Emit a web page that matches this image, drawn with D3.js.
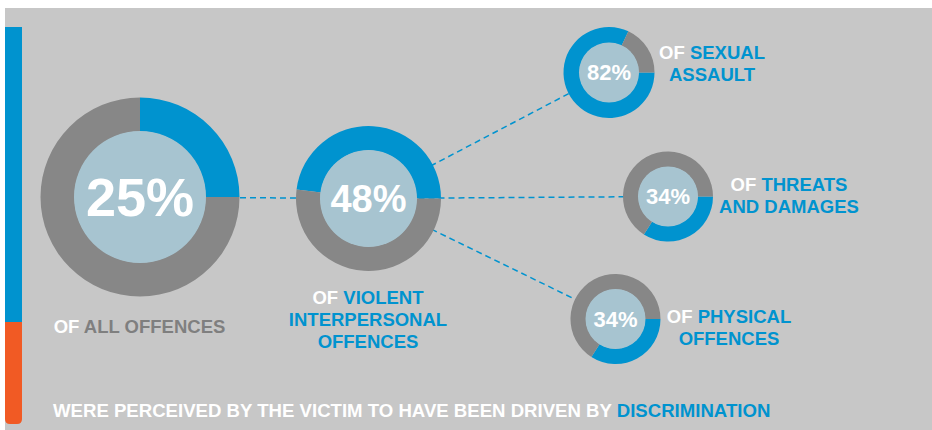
<!DOCTYPE html>
<html>
<head>
<meta charset="utf-8">
<script src="https://cdn.jsdelivr.net/npm/d3@7"></script>
<style>
  body { margin: 0; background: #fff; }
  svg text { font-family: "Liberation Sans", Arial, sans-serif; font-weight: bold; }
</style>
</head>
<body>
<div id="chart"></div>
<script>
// share of offences perceived as driven by discrimination
const categories = ["ALL OFFENCES", "VIOLENT INTERPERSONAL OFFENCES", "SEXUAL ASSAULT", "THREATS AND DAMAGES", "PHYSICAL OFFENCES"];
const values = [25, 48, 82, 34, 34];
const labelLines = [
  [["OF ", "ALL OFFENCES"]],
  [["OF ", "VIOLENT"], ["", "INTERPERSONAL"], ["", "OFFENCES"]],
  [["OF ", "SEXUAL"], ["", "ASSAULT"]],
  [["OF ", "THREATS"], ["", "AND DAMAGES"]],
  [["OF ", "PHYSICAL"], ["", "OFFENCES"]]
];
const footer = ["WERE PERCEIVED BY THE VICTIM TO HAVE BEEN DRIVEN BY ", "DISCRIMINATION"];

const width = 932, height = 430;
const blue = "#0093cf", grey = "#878787", inner = "#a7c4d0", bg = "#c7c7c7", orange = "#f15a24";

// layout: centre, radii, font size, label anchor, direction of the blue arc
const layout = [
  { cx: 140, cy: 197, R: 99.5, r: 66, fs: 54, lx: 139.5, ly: 333, start: 0, dir: 1, second: "#7f7f7f" },
  { cx: 368.5, cy: 198.5, R: 72.5, r: 48.5, fs: 38, lx: 368, ly: 304, start: Math.PI / 2, dir: -1, second: blue },
  { cx: 609, cy: 72.5, R: 45.5, r: 30, fs: 22, lx: 712, ly: 59, start: Math.PI / 2, dir: 1, second: blue },
  { cx: 668, cy: 196.5, R: 45, r: 30, fs: 22, lx: 789, ly: 191, start: Math.PI / 2, dir: 1, second: blue },
  { cx: 615.5, cy: 319, R: 45, r: 30, fs: 22, lx: 729, ly: 323, start: Math.PI / 2, dir: 1, second: blue }
];

const svg = d3.select("#chart").append("svg")
  .attr("width", width)
  .attr("height", height);

// panel
svg.append("rect")
  .attr("x", 5).attr("y", 8)
  .attr("width", width - 5).attr("height", height - 8)
  .attr("fill", bg);

// side bar
svg.append("rect")
  .attr("x", 5).attr("y", 27)
  .attr("width", 17).attr("height", 295)
  .attr("fill", blue);
svg.append("path")
  .attr("d", "M5,322 H22 V419 Q22,424 17,424 H10 Q5,424 5,419 Z")
  .attr("fill", orange);

// connectors (hub is the second donut)
const links = [[0, 1], [1, 2], [1, 3], [1, 4]];
svg.append("g")
  .attr("stroke", blue)
  .attr("stroke-width", 1.5)
  .attr("stroke-dasharray", "6,4")
  .selectAll("line")
  .data(links)
  .join("line")
  .attr("x1", d => layout[d[0]].cx)
  .attr("y1", d => layout[d[0]].cy)
  .attr("x2", d => layout[d[1]].cx)
  .attr("y2", d => layout[d[1]].cy);

const pct = d3.scaleLinear().domain([0, 100]).range([0, 1]);
const arc = d3.arc();

const nodes = svg.append("g")
  .selectAll("g")
  .data(values.map((v, i) => ({ v, i, ...layout[i] })))
  .join("g")
  .attr("transform", d => `translate(${d.cx},${d.cy})`);

nodes.each(function(d) {
  const g = d3.select(this);
  const pie = d3.pie().sort(null)
    .startAngle(d.start)
    .endAngle(d.start + d.dir * 2 * Math.PI);
  const slices = pie([pct(d.v), 1 - pct(d.v)]);
  g.selectAll("path")
    .data(slices)
    .join("path")
    .attr("d", s => arc({ ...s, innerRadius: d.r - 0.5, outerRadius: d.R }))
    .attr("fill", (s, k) => k === 0 ? blue : grey);
  g.append("circle")
    .attr("r", d.r)
    .attr("fill", inner);
  g.append("text")
    .attr("text-anchor", "middle")
    .attr("dy", "0.36em")
    .attr("fill", "#fff")
    .attr("font-size", d.fs)
    .text(d.v + "%");
});

// labels
labelLines.forEach((lines, i) => {
  const L = layout[i];
  const t = svg.append("text")
    .attr("text-anchor", "middle")
    .attr("font-size", 18.5);
  lines.forEach((parts, j) => {
    const line = t.append("tspan")
      .attr("x", L.lx)
      .attr("y", L.ly + j * 22);
    if (parts[0]) line.append("tspan").attr("fill", "#fff").text(parts[0]);
    line.append("tspan").attr("fill", L.second).text(parts[1]);
  });
});

// footer
const f = svg.append("text")
  .attr("x", 53)
  .attr("y", 417)
  .attr("font-size", 18.6);
f.append("tspan").attr("fill", "#fff").text(footer[0]);
f.append("tspan").attr("fill", blue).text(footer[1]);
</script>
</body>
</html>
